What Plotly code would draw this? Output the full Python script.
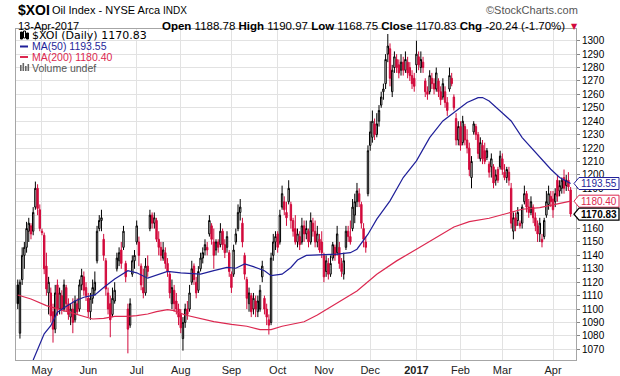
import plotly.graph_objects as go

# ---------------- data (trading-day index 0 = 15-Apr-2016 ... 251 = 13-Apr-2017) ----------------
OPEN = [1118,1082,1122,1140,1146,1158,1162,1158,1176,1190,1174,1158,1155,1132,1112,1112,1098,1085,1118,1100,
        1110,1100,1116,1104,1094,1100,1092,1104,1100,1118,1124,1116,1108,1098,1108,1114,1136,1160,1166,1152,
        1136,1112,1104,1096,1106,1130,1136,1144,1146,1134,1100,1088,1126,1136,1150,1150,1132,1116,1112,1132,
        1160,1170,1164,1166,1152,1146,1138,1142,1134,1126,1104,1114,1106,1100,1096,1078,1090,1100,1100,1120,
        1132,1120,1114,1130,1138,1144,1146,1156,1162,1150,1144,1150,1148,1158,1148,1146,1142,1126,1126,1150,
        1160,1172,1164,1140,1122,1104,1110,1100,1106,1098,1100,1124,1108,1100,1092,1090,1140,1150,1156,1150,
        1176,1180,1172,1180,1178,1166,1160,1150,1154,1150,1162,1156,1158,1150,1164,1158,1150,1152,1150,1140,
        1128,1134,1126,1138,1146,1142,1146,1134,1126,1146,1158,1154,1160,1170,1180,1186,1178,1160,1150,1186,
        1222,1228,1238,1230,1240,1252,1262,1268,1290,1294,1262,1280,1286,1282,1278,1284,1278,1284,1280,1274,
        1272,1282,1288,1280,1284,1270,1262,1262,1272,1268,1264,1270,1262,1258,1262,1254,1264,1272,1258,1242,
        1226,1236,1224,1236,1226,1220,1198,1232,1236,1230,1212,1222,1218,1213,1208,1206,1206,1196,1204,1206,
        1212,1202,1198,1202,1190,1158,1168,1166,1164,1164,1180,1186,1176,1172,1176,1168,1162,1156,1152,1154,
        1170,1178,1184,1182,1180,1196,1188,1190,1198,1192,1196,1188.78]
HIGH = [1122,1122,1146,1150,1165,1168,1164,1176,1195,1193,1178,1160,1157,1142,1124,1116,1104,1118,1122,1116,
        1114,1122,1118,1108,1104,1108,1110,1108,1122,1130,1128,1120,1112,1112,1122,1128,1162,1170,1174,1156,
        1138,1116,1110,1116,1120,1142,1146,1150,1162,1136,1104,1108,1140,1144,1166,1154,1134,1130,1138,1140,
        1174,1172,1172,1168,1158,1150,1150,1146,1138,1128,1122,1118,1112,1104,1100,1094,1104,1106,1118,1136,
        1134,1124,1132,1142,1146,1152,1150,1170,1164,1160,1152,1152,1164,1160,1152,1158,1144,1128,1148,1160,
        1178,1182,1168,1142,1124,1116,1112,1112,1110,1110,1118,1136,1110,1104,1096,1142,1156,1158,1158,1174,
        1192,1184,1180,1196,1180,1168,1170,1160,1158,1168,1166,1166,1160,1172,1168,1166,1162,1156,1158,1142,
        1140,1138,1140,1150,1148,1162,1150,1138,1142,1162,1162,1166,1182,1186,1194,1190,1180,1164,1154,1222,
        1240,1248,1242,1246,1252,1262,1268,1290,1305,1298,1282,1292,1290,1286,1290,1288,1292,1288,1284,1278,
        1276,1300,1292,1292,1288,1272,1266,1278,1276,1272,1280,1272,1266,1272,1266,1258,1280,1276,1260,1246,
        1240,1240,1244,1238,1234,1224,1214,1240,1238,1232,1228,1226,1224,1220,1210,1216,1208,1204,1206,1218,
        1216,1208,1206,1206,1194,1172,1172,1176,1166,1178,1192,1188,1182,1184,1178,1172,1166,1168,1156,1168,
        1188,1192,1188,1188,1190,1200,1196,1198,1204,1200,1202,1190.97]
LOW = [1100,1078,1118,1130,1142,1150,1152,1155,1174,1170,1158,1155,1126,1110,1096,1090,1075,1082,1095,1096,
       1096,1098,1098,1092,1088,1082,1090,1096,1098,1114,1110,1106,1094,1092,1104,1110,1134,1158,1158,1136,
       1110,1096,1079,1094,1104,1128,1132,1130,1144,1120,1067,1086,1124,1130,1148,1132,1114,1108,1110,1124,
       1158,1160,1160,1150,1140,1136,1136,1130,1124,1108,1100,1098,1096,1088,1082,1069,1086,1092,1098,1118,
       1118,1108,1112,1128,1134,1140,1140,1154,1148,1130,1140,1142,1146,1144,1138,1142,1124,1112,1124,1148,
       1158,1166,1146,1122,1100,1098,1094,1096,1094,1094,1098,1120,1096,1088,1081,1088,1136,1144,1142,1148,
       1174,1170,1162,1178,1160,1154,1148,1146,1144,1148,1150,1152,1146,1148,1154,1146,1146,1142,1138,1120,
       1124,1122,1124,1136,1136,1140,1130,1124,1122,1144,1150,1148,1158,1164,1176,1176,1160,1146,1142,1184,
       1218,1224,1226,1228,1236,1250,1256,1264,1284,1266,1258,1276,1276,1272,1274,1274,1276,1272,1270,1264,
       1262,1276,1278,1276,1276,1258,1256,1260,1264,1260,1262,1258,1252,1256,1250,1244,1262,1266,1248,1222,
       1222,1218,1222,1222,1216,1199,1190,1230,1226,1212,1210,1208,1208,1211,1198,1198,1190,1192,1194,1204,
       1200,1196,1194,1192,1160,1152,1158,1162,1160,1160,1178,1172,1168,1170,1164,1158,1150,1150,1146,1152,
       1168,1174,1176,1168,1176,1180,1184,1186,1186,1188,1188,1168.75]
CLOSE = [1104,1120,1140,1146,1160,1164,1156,1172,1190,1175,1160,1157,1130,1115,1120,1095,1085,1112,1100,1112,
         1100,1118,1104,1096,1100,1090,1106,1098,1118,1125,1114,1110,1098,1108,1116,1120,1158,1166,1168,1140,
         1115,1100,1092,1108,1114,1138,1142,1134,1158,1124,1085,1104,1136,1140,1162,1140,1118,1112,1132,1128,
         1170,1164,1168,1152,1146,1140,1144,1134,1128,1112,1116,1104,1100,1094,1086,1090,1100,1096,1112,1130,
         1122,1112,1128,1138,1142,1148,1144,1166,1152,1140,1150,1146,1158,1148,1142,1154,1128,1116,1144,1156,
         1172,1176,1150,1126,1108,1112,1098,1108,1100,1106,1114,1132,1100,1094,1088,1138,1150,1154,1146,1170,
         1186,1174,1168,1190,1166,1158,1150,1156,1148,1162,1156,1160,1150,1166,1158,1150,1156,1144,1142,1124,
         1136,1126,1134,1148,1140,1156,1134,1128,1136,1158,1154,1150,1176,1180,1188,1180,1164,1152,1146,1218,
         1232,1240,1230,1238,1248,1258,1264,1286,1296,1272,1278,1288,1280,1276,1284,1278,1286,1276,1274,1268,
         1266,1290,1282,1286,1280,1262,1260,1274,1268,1264,1276,1262,1256,1268,1254,1248,1274,1268,1250,1226,
         1236,1222,1240,1226,1220,1204,1210,1238,1230,1216,1224,1212,1210,1218,1202,1212,1194,1200,1196,1214,
         1204,1198,1204,1196,1164,1168,1162,1172,1162,1176,1186,1176,1172,1180,1168,1162,1156,1164,1150,1166,
         1180,1186,1180,1174,1186,1184,1192,1196,1190,1196,1191.07,1170.83]

MA50_IDX = [7,12,15,18,21,26,30,35,39,44,50,54,59,63,68,74,79,83,89,95,99,103,107,112,115,120,124,127,131,
            140,145,151,154,159,163,169,175,181,187,193,200,204,209,211,214,219,224,229,236,242,246,251]
MA50_VAL = [1062,1081.5,1087.6,1097.6,1101,1106,1108.8,1110.5,1116,1122.4,1128.6,1127,1123,1125,1128,1127,
            1126.2,1126,1128.6,1131,1130.4,1133.6,1131.6,1128.6,1124.9,1126,1131,1136.5,1140,1140.4,1141,1142,
            1144.6,1155.8,1167,1180.6,1198,1210.4,1227.8,1240.2,1249,1253.9,1257.6,1257.6,1255.1,1247.7,1240.2,
            1227.8,1215.4,1204.2,1198,1193.55]
MA200_IDX = [0,6,13,21,29,34,39,44,50,54,59,63,68,71,76,83,89,97,104,110,115,120,125,130,136,142,154,163,
             172,181,190,198,205,214,222,229,237,245,251]
MA200_VAL = [1110.5,1107.5,1102.6,1098.8,1095.1,1092.6,1093.1,1094.6,1094.6,1095.1,1096.3,1098.1,1099.6,
             1098.8,1095.6,1093.1,1090.6,1088.6,1087.2,1084.7,1084.7,1087.2,1088.9,1090.5,1095.5,1101.5,1113.5,
             1126,1135.9,1144.6,1153.3,1161.2,1165.2,1167.7,1171.2,1174.4,1175.6,1178.1,1180.40]

MONTH_IDX = [11,32,54,74,97,118,139,160,181,201,220,243]
MONTH_LABELS = ["May","Jun","Jul","Aug","Sep","Oct","Nov","Dec","<b>2017</b>","Feb","Mar","Apr"]
Y_TICKS = list(range(1070, 1301, 10))
Y_HIDDEN = [1170, 1180]   # labels covered by the value tags in the original

# ---------------- styling ----------------
BLACK = "#000000"
RED = "#d20a3c"
NAVY = "#1f1f99"
CRIMSON = "#dc2850"
GRID = "#e2e2e2"
FRAME = "#a6a6a6"
FONT = "Liberation Sans, Arial, sans-serif"

W, H = 620, 376
L, R, T, B = 16, 576, 29, 360
YMIN, YMAX = 1062.03, 1308.72
XMIN, XMAX = -0.8, 253.44


def pxx(x):
    return (x - L) / (R - L)


def pxy(y):
    return (B - y) / (B - T)


def val2py(v):
    return B - (v - YMIN) / (YMAX - YMIN) * (B - T)


n = len(CLOSE)
up = [i == 0 or CLOSE[i] >= CLOSE[i - 1] for i in range(n)]


def subset(flag):
    idx = [i for i in range(n) if up[i] == flag]
    return (idx, [OPEN[i] for i in idx], [HIGH[i] for i in idx],
            [LOW[i] for i in idx], [CLOSE[i] for i in idx])


fig = go.Figure()
for flag, col in ((True, BLACK), (False, RED)):
    xi, o, h, lo, c = subset(flag)
    fig.add_trace(go.Candlestick(
        x=xi, open=o, high=h, low=lo, close=c,
        increasing=dict(line=dict(color=col, width=1), fillcolor="white"),
        decreasing=dict(line=dict(color=col, width=1), fillcolor=col),
        whiskerwidth=0, showlegend=False, hoverinfo="skip"))

fig.add_trace(go.Scatter(x=MA200_IDX, y=MA200_VAL, mode="lines",
                         line=dict(color=CRIMSON, width=1.2), showlegend=False, hoverinfo="skip"))
fig.add_trace(go.Scatter(x=MA50_IDX, y=MA50_VAL, mode="lines",
                         line=dict(color=NAVY, width=1.2), showlegend=False, hoverinfo="skip"))

ann = []
shapes = []

# header
ann.append(dict(x=pxx(16), y=pxy(10), text="<b>$XOI</b>", xanchor="left", yanchor="middle",
                font=dict(size=14, color="black", family=FONT)))
ann.append(dict(x=pxx(50), y=pxy(10.5), text="Oil Index - NYSE Arca", xanchor="left", yanchor="middle",
                font=dict(size=11, color="black", family=FONT)))
ann.append(dict(x=pxx(161), y=pxy(10.5), text="INDX", xanchor="left", yanchor="middle",
                font=dict(size=10, color="black", family=FONT)))
ann.append(dict(x=pxx(580), y=pxy(10), text="©StockCharts.com", xanchor="right", yanchor="middle",
                font=dict(size=11, color="#555555", family=FONT)))
ann.append(dict(x=pxx(16), y=pxy(26), text="13-Apr-2017", xanchor="left", yanchor="middle",
                font=dict(size=11, color="black", family=FONT)))
chg = CLOSE[-1] - CLOSE[-2]
pct = chg / CLOSE[-2] * 100
ohlc = (f"<b>Open</b> {OPEN[-1]:.2f} <b>High</b> {HIGH[-1]:.2f} <b>Low</b> {LOW[-1]:.2f} "
        f"<b>Close</b> {CLOSE[-1]:.2f} <b>Chg</b> {chg:.2f} ({pct:.2f}%)")
ann.append(dict(x=pxx(567), y=pxy(26), text=ohlc, xanchor="right", yanchor="middle",
                font=dict(size=11.5, color="black", family=FONT)))
ann.append(dict(x=pxx(574), y=pxy(26.5), text="▼", xanchor="center", yanchor="middle",
                font=dict(size=8, color=RED, family="DejaVu Sans")))

# in-plot legend: white backing strips (between grid and traces) + text
leg = [
    (35.5, f"$XOI (Daily) {CLOSE[-1]:.2f}", "black", "DejaVu Sans", 11, 151),
    (46.5, f"MA(50) {MA50_VAL[-1]:.2f}", NAVY, FONT, 10.5, 99),
    (57, f"MA(200) {MA200_VAL[-1]:.2f}", CRIMSON, FONT, 10.5, 105),
    (67.5, "Volume undef", "#555555", FONT, 10.5, 92),
]
for k, (yy, txt, col, fam, sz, xend) in enumerate(leg):
    top = 30 if k == 0 else yy - 5.5
    shapes.append(dict(type="rect", xref="paper", yref="paper", x0=pxx(16.5), x1=pxx(xend),
                       y0=pxy(yy + 5.5), y1=pxy(top), fillcolor="white", line=dict(width=0),
                       layer="between"))
    ann.append(dict(x=pxx(30), y=pxy(yy), text=txt, xanchor="left", yanchor="middle",
                    font=dict(size=sz, color=col, family=fam)))
# legend icons
for x0, y0, y1, filled in ((20.5, 32, 39, True), (23.5, 31, 38, False), (26.5, 33, 39, True)):
    shapes.append(dict(type="rect", xref="paper", yref="paper", x0=pxx(x0), x1=pxx(x0 + 2),
                       y0=pxy(y1), y1=pxy(y0), line=dict(color="black", width=1),
                       fillcolor="black" if filled else "white", layer="above"))
for yy, col in ((46.5, NAVY), (57, CRIMSON)):
    shapes.append(dict(type="line", xref="paper", yref="paper", x0=pxx(20), x1=pxx(28),
                       y0=pxy(yy), y1=pxy(yy), line=dict(color=col, width=2), layer="above"))
for x0, top in ((20, 65), (22.5, 63), (25, 66), (27.5, 64)):
    shapes.append(dict(type="rect", xref="paper", yref="paper", x0=pxx(x0), x1=pxx(x0 + 1.6),
                       y0=pxy(71), y1=pxy(top), line=dict(width=0), fillcolor="#666666", layer="above"))

# right-side value tags
tags = [(MA50_VAL[-1], NAVY, False), (MA200_VAL[-1], CRIMSON, False), (CLOSE[-1], BLACK, True)]
prev = None
for v, col, bold in tags:
    yc = val2py(v)
    if prev is not None and yc - prev < 13:
        yc = prev + 13
    prev = yc
    path = (f"M {pxx(574)},{pxy(yc)} L {pxx(579)},{pxy(yc - 6)} L {pxx(619)},{pxy(yc - 6)} "
            f"L {pxx(619)},{pxy(yc + 6)} L {pxx(579)},{pxy(yc + 6)} Z")
    shapes.append(dict(type="path", xref="paper", yref="paper", path=path, fillcolor="white",
                       line=dict(color=col, width=1.3 if bold else 1), layer="above"))
    txt = f"{v:.2f}"
    ann.append(dict(x=pxx(599), y=pxy(yc), text=f"<b>{txt}</b>" if bold else txt,
                    xanchor="center", yanchor="middle",
                    font=dict(size=10, color=col, family=FONT)))

for a in ann:
    a.setdefault("xref", "paper")
    a.setdefault("yref", "paper")
    a.setdefault("showarrow", False)

fig.update_layout(
    width=W, height=H,
    margin=dict(l=L, r=W - R, t=T, b=H - B, pad=0, autoexpand=False),
    paper_bgcolor="white", plot_bgcolor="white",
    boxgap=0.1,
    showlegend=False,
    annotations=ann, shapes=shapes,
    font=dict(family=FONT, size=11, color="black"),
    xaxis=dict(range=[XMIN, XMAX], tickmode="array", tickvals=MONTH_IDX, ticktext=MONTH_LABELS,
               showgrid=True, gridcolor=GRID, gridwidth=1, zeroline=False, automargin=False,
               showline=True, mirror=True, linecolor=FRAME, linewidth=1,
               ticks="", tickfont=dict(size=11, color="#222222", family=FONT),
               rangeslider=dict(visible=False), fixedrange=True),
    yaxis=dict(range=[YMIN, YMAX], side="right", tickmode="array", tickvals=Y_TICKS,
               ticktext=["" if t in Y_HIDDEN else str(t) for t in Y_TICKS], automargin=False,
               showgrid=True, gridcolor=GRID, gridwidth=1, zeroline=False,
               showline=True, mirror=True, linecolor=FRAME, linewidth=1,
               ticks="outside", ticklen=3, tickcolor="#888888",
               tickfont=dict(size=10, color="black", family=FONT), fixedrange=True),
)

fig.write_html("out.html", config={"displayModeBar": False},
               post_script="document.body.style.margin='0px';document.body.style.padding='0px';")
